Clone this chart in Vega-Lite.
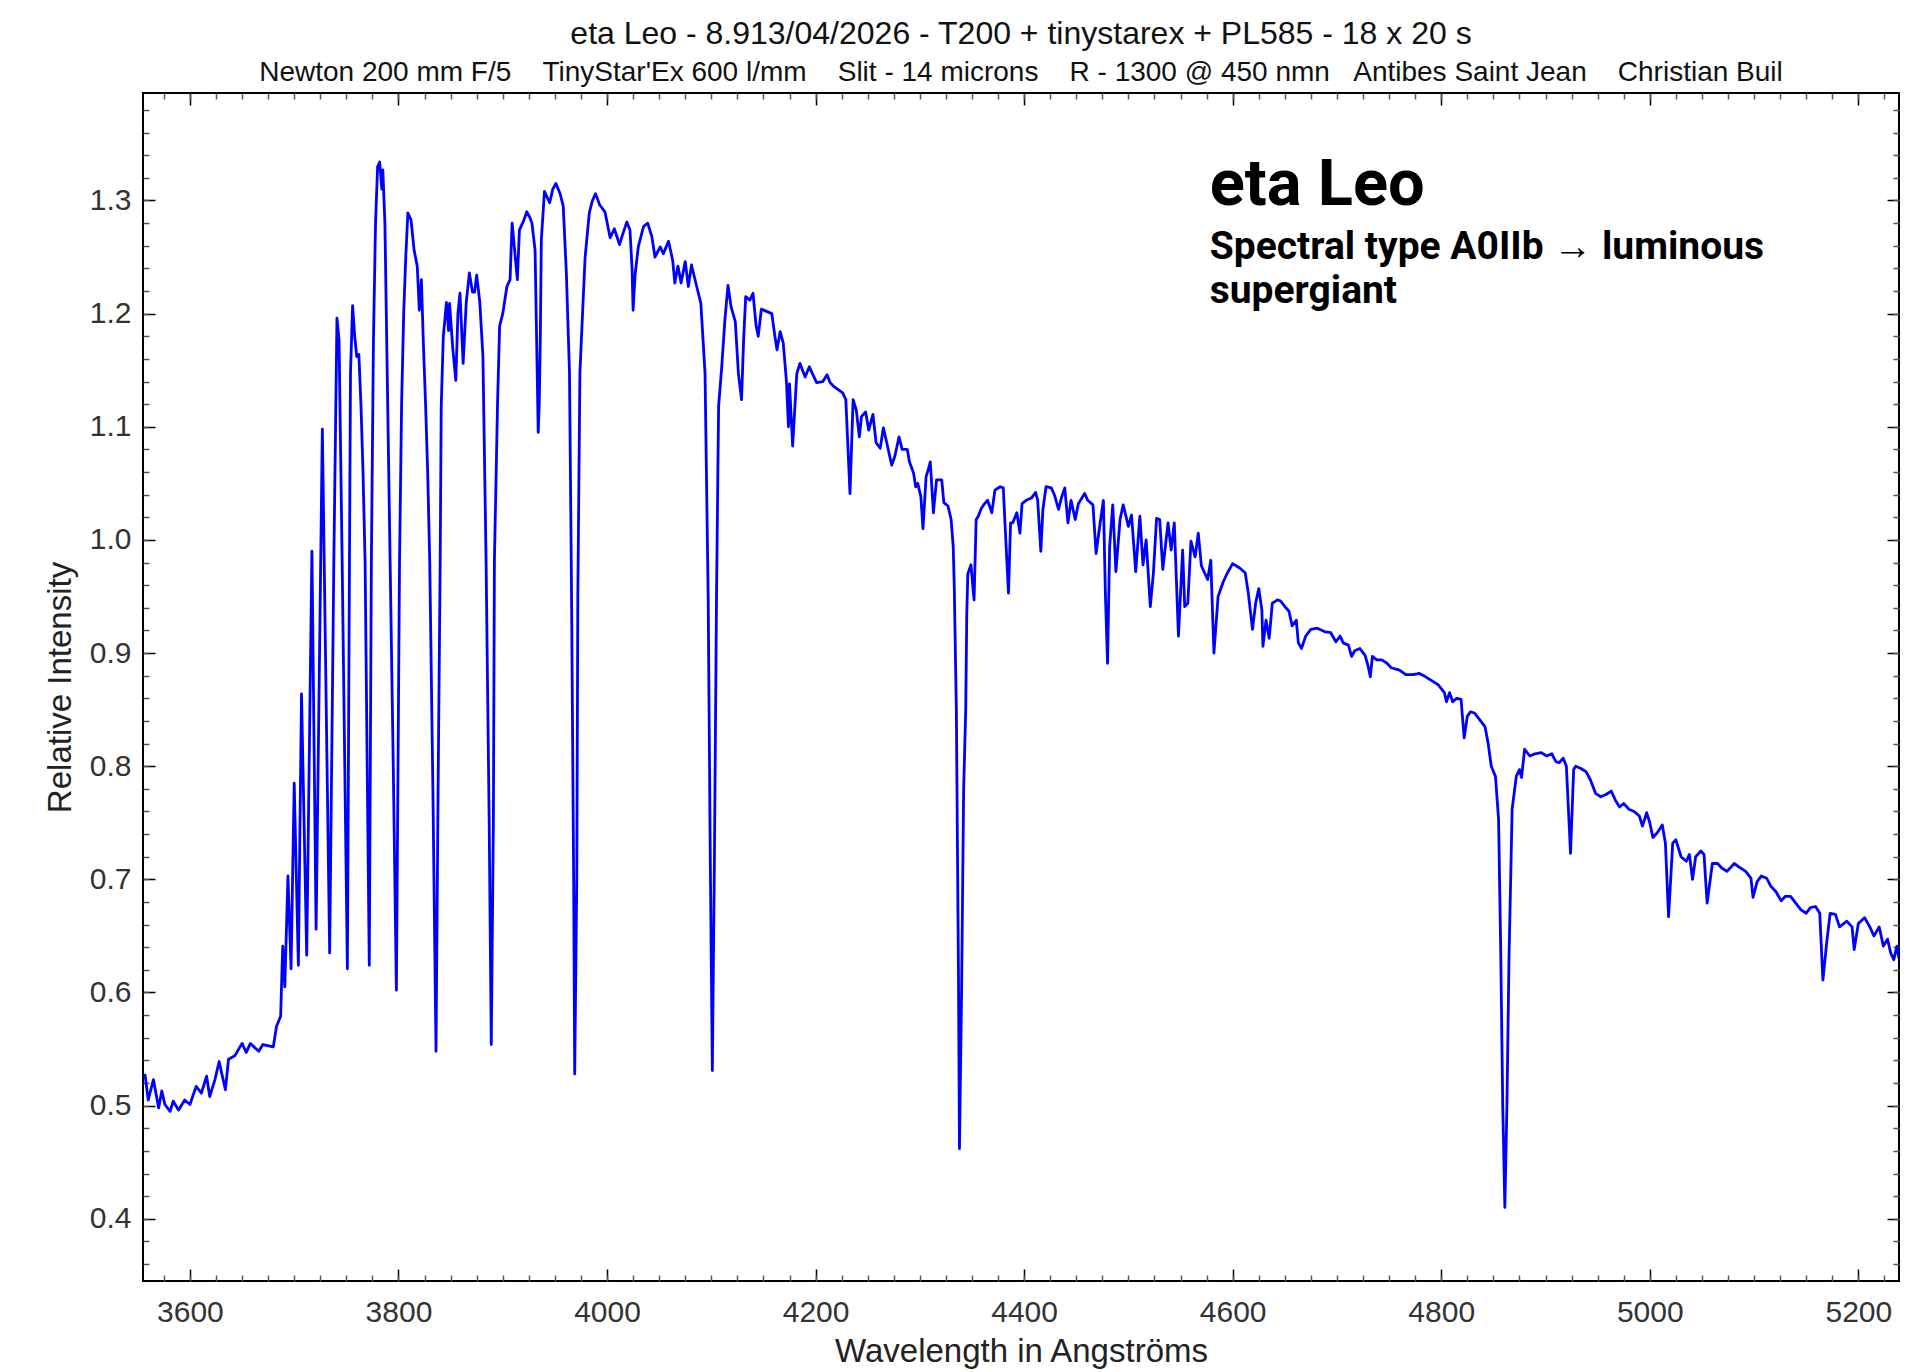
{
  "$schema": "https://vega.github.io/schema/vega-lite/v6.json",
  "width": 1756,
  "height": 1188,
  "autosize": {"type": "none"},
  "padding": {"left": 143, "top": 93, "right": 18, "bottom": 91},
  "background": "white",
  "title": {
    "text": "eta Leo - 8.913/04/2026 - T200 + tinystarex + PL585 - 18 x 20 s",
    "subtitle": "Newton 200 mm F/5\u00a0\u00a0\u00a0\u00a0TinyStar'Ex 600 l/mm\u00a0\u00a0\u00a0\u00a0Slit - 14 microns\u00a0\u00a0\u00a0\u00a0R - 1300 @ 450 nmn\u00a0\u00a0\u00a0Antibes Saint Jean\u00a0\u00a0\u00a0\u00a0Christian Buil",
    "anchor": "middle",
    "font": "Liberation Sans",
    "fontSize": 32,
    "fontWeight": "normal",
    "color": "#111111",
    "subtitleFont": "Liberation Sans",
    "subtitleFontSize": 28,
    "subtitleColor": "#111111",
    "subtitlePadding": 8,
    "offset": 4
  },
  "config": {
    "view": {"stroke": "#000000", "strokeWidth": 2},
    "axis": {
      "domain": false,
      "grid": false,
      "labelFont": "Liberation Sans",
      "labelFontSize": 30,
      "labelColor": "#333333",
      "titleFont": "Liberation Sans",
      "titleFontSize": 33,
      "titleFontWeight": "normal",
      "titleColor": "#222222",
      "tickColor": "#000000",
      "tickWidth": 1.5
    }
  },
  "datasets": {
    "spec": [
      {"wl": 3555, "v": 0.527}, {"wl": 3557, "v": 0.527}, {"wl": 3560, "v": 0.505}, {"wl": 3565, "v": 0.523},
      {"wl": 3570, "v": 0.498}, {"wl": 3573, "v": 0.513}, {"wl": 3576, "v": 0.501}, {"wl": 3581, "v": 0.495},
      {"wl": 3584, "v": 0.504}, {"wl": 3589, "v": 0.496}, {"wl": 3595, "v": 0.505}, {"wl": 3600, "v": 0.501},
      {"wl": 3606, "v": 0.517}, {"wl": 3611, "v": 0.511}, {"wl": 3616, "v": 0.526}, {"wl": 3619, "v": 0.508},
      {"wl": 3624, "v": 0.523}, {"wl": 3628, "v": 0.539}, {"wl": 3634, "v": 0.514}, {"wl": 3637, "v": 0.541},
      {"wl": 3643, "v": 0.544}, {"wl": 3650, "v": 0.555}, {"wl": 3654, "v": 0.547}, {"wl": 3658, "v": 0.555},
      {"wl": 3666, "v": 0.548}, {"wl": 3670, "v": 0.554}, {"wl": 3680, "v": 0.552}, {"wl": 3683, "v": 0.570},
      {"wl": 3687, "v": 0.579}, {"wl": 3689, "v": 0.641}, {"wl": 3691, "v": 0.605}, {"wl": 3694, "v": 0.703},
      {"wl": 3697, "v": 0.621}, {"wl": 3700, "v": 0.785}, {"wl": 3704, "v": 0.624}, {"wl": 3707, "v": 0.864},
      {"wl": 3712, "v": 0.633}, {"wl": 3717, "v": 0.990}, {"wl": 3721, "v": 0.656}, {"wl": 3727, "v": 1.098},
      {"wl": 3730, "v": 0.900}, {"wl": 3734, "v": 0.635}, {"wl": 3738, "v": 0.980}, {"wl": 3741, "v": 1.196},
      {"wl": 3743, "v": 1.177}, {"wl": 3746, "v": 0.980}, {"wl": 3751, "v": 0.621}, {"wl": 3753, "v": 0.980},
      {"wl": 3754, "v": 1.148}, {"wl": 3756, "v": 1.207}, {"wl": 3758, "v": 1.180}, {"wl": 3760, "v": 1.162},
      {"wl": 3762, "v": 1.164}, {"wl": 3764, "v": 1.120}, {"wl": 3766, "v": 1.060}, {"wl": 3768, "v": 0.980},
      {"wl": 3770, "v": 0.800}, {"wl": 3772, "v": 0.624}, {"wl": 3774, "v": 0.980}, {"wl": 3776, "v": 1.177},
      {"wl": 3778, "v": 1.280}, {"wl": 3780, "v": 1.330}, {"wl": 3782, "v": 1.334}, {"wl": 3784, "v": 1.310},
      {"wl": 3785, "v": 1.327}, {"wl": 3787, "v": 1.280}, {"wl": 3789, "v": 1.160}, {"wl": 3792, "v": 0.980},
      {"wl": 3795, "v": 0.800}, {"wl": 3798, "v": 0.602}, {"wl": 3801, "v": 0.980}, {"wl": 3803, "v": 1.120},
      {"wl": 3805, "v": 1.200}, {"wl": 3807, "v": 1.250}, {"wl": 3809, "v": 1.289}, {"wl": 3812, "v": 1.283},
      {"wl": 3815, "v": 1.256}, {"wl": 3818, "v": 1.242}, {"wl": 3820, "v": 1.203}, {"wl": 3822, "v": 1.230},
      {"wl": 3824, "v": 1.170}, {"wl": 3826, "v": 1.120}, {"wl": 3828, "v": 1.060}, {"wl": 3830, "v": 0.980},
      {"wl": 3833, "v": 0.780}, {"wl": 3836, "v": 0.548}, {"wl": 3838, "v": 0.780}, {"wl": 3840, "v": 0.980},
      {"wl": 3841, "v": 1.118}, {"wl": 3843, "v": 1.180}, {"wl": 3846, "v": 1.210}, {"wl": 3848, "v": 1.185},
      {"wl": 3849, "v": 1.209}, {"wl": 3852, "v": 1.170}, {"wl": 3855, "v": 1.141}, {"wl": 3857, "v": 1.200},
      {"wl": 3859, "v": 1.218}, {"wl": 3862, "v": 1.156}, {"wl": 3865, "v": 1.210}, {"wl": 3868, "v": 1.236},
      {"wl": 3871, "v": 1.219}, {"wl": 3873, "v": 1.219}, {"wl": 3875, "v": 1.234}, {"wl": 3878, "v": 1.210},
      {"wl": 3881, "v": 1.162}, {"wl": 3884, "v": 0.982}, {"wl": 3887, "v": 0.750}, {"wl": 3889, "v": 0.554},
      {"wl": 3891, "v": 0.750}, {"wl": 3892, "v": 0.982}, {"wl": 3895, "v": 1.120}, {"wl": 3897, "v": 1.189},
      {"wl": 3900, "v": 1.200}, {"wl": 3904, "v": 1.224}, {"wl": 3907, "v": 1.230}, {"wl": 3909, "v": 1.280},
      {"wl": 3911, "v": 1.260}, {"wl": 3914, "v": 1.230}, {"wl": 3916, "v": 1.274}, {"wl": 3920, "v": 1.282},
      {"wl": 3923, "v": 1.290}, {"wl": 3926, "v": 1.285}, {"wl": 3928, "v": 1.280}, {"wl": 3931, "v": 1.256},
      {"wl": 3933, "v": 1.150}, {"wl": 3934, "v": 1.095}, {"wl": 3935, "v": 1.120}, {"wl": 3936, "v": 1.177},
      {"wl": 3937, "v": 1.265}, {"wl": 3940, "v": 1.308}, {"wl": 3943, "v": 1.302}, {"wl": 3945, "v": 1.298},
      {"wl": 3948, "v": 1.310}, {"wl": 3951, "v": 1.315}, {"wl": 3955, "v": 1.306}, {"wl": 3958, "v": 1.295},
      {"wl": 3961, "v": 1.236}, {"wl": 3964, "v": 1.148}, {"wl": 3966, "v": 0.950}, {"wl": 3968, "v": 0.700},
      {"wl": 3969, "v": 0.528}, {"wl": 3971, "v": 0.700}, {"wl": 3972, "v": 0.950}, {"wl": 3974, "v": 1.148},
      {"wl": 3977, "v": 1.210}, {"wl": 3979, "v": 1.250}, {"wl": 3983, "v": 1.289}, {"wl": 3986, "v": 1.300},
      {"wl": 3989, "v": 1.306}, {"wl": 3993, "v": 1.296}, {"wl": 3998, "v": 1.290}, {"wl": 4003, "v": 1.267},
      {"wl": 4007, "v": 1.275}, {"wl": 4012, "v": 1.261}, {"wl": 4015, "v": 1.270}, {"wl": 4019, "v": 1.281},
      {"wl": 4022, "v": 1.274}, {"wl": 4024, "v": 1.240}, {"wl": 4025, "v": 1.203}, {"wl": 4027, "v": 1.235},
      {"wl": 4030, "v": 1.259}, {"wl": 4035, "v": 1.277}, {"wl": 4039, "v": 1.280}, {"wl": 4043, "v": 1.268},
      {"wl": 4046, "v": 1.250}, {"wl": 4051, "v": 1.259}, {"wl": 4054, "v": 1.253}, {"wl": 4059, "v": 1.264},
      {"wl": 4063, "v": 1.247}, {"wl": 4065, "v": 1.227}, {"wl": 4068, "v": 1.242}, {"wl": 4071, "v": 1.227},
      {"wl": 4075, "v": 1.246}, {"wl": 4078, "v": 1.224}, {"wl": 4081, "v": 1.243}, {"wl": 4086, "v": 1.224},
      {"wl": 4090, "v": 1.209}, {"wl": 4094, "v": 1.147}, {"wl": 4097, "v": 0.950}, {"wl": 4099, "v": 0.720},
      {"wl": 4101, "v": 0.531}, {"wl": 4103, "v": 0.720}, {"wl": 4105, "v": 0.950}, {"wl": 4107, "v": 1.118},
      {"wl": 4110, "v": 1.153}, {"wl": 4113, "v": 1.194}, {"wl": 4116, "v": 1.225}, {"wl": 4119, "v": 1.206},
      {"wl": 4123, "v": 1.193}, {"wl": 4126, "v": 1.147}, {"wl": 4129, "v": 1.124}, {"wl": 4131, "v": 1.177},
      {"wl": 4133, "v": 1.215}, {"wl": 4137, "v": 1.212}, {"wl": 4140, "v": 1.218}, {"wl": 4143, "v": 1.189},
      {"wl": 4145, "v": 1.180}, {"wl": 4148, "v": 1.204}, {"wl": 4153, "v": 1.202}, {"wl": 4158, "v": 1.200},
      {"wl": 4161, "v": 1.180}, {"wl": 4163, "v": 1.168}, {"wl": 4166, "v": 1.184}, {"wl": 4169, "v": 1.174},
      {"wl": 4172, "v": 1.141}, {"wl": 4174, "v": 1.100}, {"wl": 4175, "v": 1.138}, {"wl": 4178, "v": 1.083},
      {"wl": 4182, "v": 1.147}, {"wl": 4185, "v": 1.156}, {"wl": 4190, "v": 1.144}, {"wl": 4194, "v": 1.153},
      {"wl": 4201, "v": 1.139}, {"wl": 4207, "v": 1.140}, {"wl": 4211, "v": 1.146}, {"wl": 4214, "v": 1.139},
      {"wl": 4217, "v": 1.136}, {"wl": 4226, "v": 1.130}, {"wl": 4229, "v": 1.124}, {"wl": 4233, "v": 1.041},
      {"wl": 4236, "v": 1.124}, {"wl": 4239, "v": 1.115}, {"wl": 4242, "v": 1.091}, {"wl": 4244, "v": 1.109},
      {"wl": 4248, "v": 1.113}, {"wl": 4251, "v": 1.097}, {"wl": 4255, "v": 1.111}, {"wl": 4258, "v": 1.086},
      {"wl": 4262, "v": 1.081}, {"wl": 4265, "v": 1.099}, {"wl": 4268, "v": 1.087}, {"wl": 4273, "v": 1.066},
      {"wl": 4276, "v": 1.074}, {"wl": 4280, "v": 1.091}, {"wl": 4283, "v": 1.080}, {"wl": 4288, "v": 1.080},
      {"wl": 4290, "v": 1.069}, {"wl": 4294, "v": 1.059}, {"wl": 4296, "v": 1.047}, {"wl": 4298, "v": 1.050},
      {"wl": 4301, "v": 1.038}, {"wl": 4303, "v": 1.010}, {"wl": 4306, "v": 1.056}, {"wl": 4308, "v": 1.062},
      {"wl": 4310, "v": 1.069}, {"wl": 4313, "v": 1.024}, {"wl": 4316, "v": 1.053}, {"wl": 4321, "v": 1.053},
      {"wl": 4323, "v": 1.033}, {"wl": 4327, "v": 1.030}, {"wl": 4330, "v": 1.018}, {"wl": 4332, "v": 0.994},
      {"wl": 4333, "v": 0.959}, {"wl": 4335, "v": 0.850}, {"wl": 4337, "v": 0.620}, {"wl": 4338, "v": 0.462},
      {"wl": 4340, "v": 0.600}, {"wl": 4342, "v": 0.780}, {"wl": 4344, "v": 0.850}, {"wl": 4345, "v": 0.935},
      {"wl": 4346, "v": 0.970}, {"wl": 4349, "v": 0.978}, {"wl": 4352, "v": 0.947}, {"wl": 4354, "v": 1.018},
      {"wl": 4356, "v": 1.021}, {"wl": 4359, "v": 1.028}, {"wl": 4362, "v": 1.032}, {"wl": 4365, "v": 1.035},
      {"wl": 4369, "v": 1.024}, {"wl": 4372, "v": 1.044}, {"wl": 4377, "v": 1.047}, {"wl": 4380, "v": 1.046},
      {"wl": 4382, "v": 1.008}, {"wl": 4385, "v": 0.953}, {"wl": 4387, "v": 1.015}, {"wl": 4389, "v": 1.015},
      {"wl": 4393, "v": 1.024}, {"wl": 4396, "v": 1.006}, {"wl": 4398, "v": 1.032}, {"wl": 4402, "v": 1.035},
      {"wl": 4407, "v": 1.037}, {"wl": 4411, "v": 1.042}, {"wl": 4413, "v": 1.035}, {"wl": 4416, "v": 0.990},
      {"wl": 4418, "v": 1.027}, {"wl": 4421, "v": 1.047}, {"wl": 4426, "v": 1.046}, {"wl": 4429, "v": 1.040},
      {"wl": 4433, "v": 1.027}, {"wl": 4436, "v": 1.038}, {"wl": 4439, "v": 1.046}, {"wl": 4442, "v": 1.015},
      {"wl": 4445, "v": 1.035}, {"wl": 4449, "v": 1.018}, {"wl": 4452, "v": 1.032}, {"wl": 4458, "v": 1.041},
      {"wl": 4461, "v": 1.035}, {"wl": 4466, "v": 1.031}, {"wl": 4469, "v": 0.988}, {"wl": 4472, "v": 1.009},
      {"wl": 4476, "v": 1.035}, {"wl": 4478, "v": 0.950}, {"wl": 4480, "v": 0.891}, {"wl": 4482, "v": 0.994},
      {"wl": 4485, "v": 1.031}, {"wl": 4488, "v": 0.972}, {"wl": 4492, "v": 1.018}, {"wl": 4495, "v": 1.031},
      {"wl": 4500, "v": 1.012}, {"wl": 4503, "v": 1.022}, {"wl": 4507, "v": 0.972}, {"wl": 4511, "v": 1.021},
      {"wl": 4514, "v": 0.978}, {"wl": 4517, "v": 1.000}, {"wl": 4521, "v": 0.941}, {"wl": 4524, "v": 0.971},
      {"wl": 4527, "v": 1.019}, {"wl": 4530, "v": 1.018}, {"wl": 4533, "v": 0.974}, {"wl": 4538, "v": 1.015},
      {"wl": 4541, "v": 0.991}, {"wl": 4544, "v": 1.015}, {"wl": 4548, "v": 0.915}, {"wl": 4552, "v": 0.991},
      {"wl": 4554, "v": 0.941}, {"wl": 4557, "v": 0.944}, {"wl": 4560, "v": 0.999}, {"wl": 4564, "v": 0.985},
      {"wl": 4567, "v": 1.006}, {"wl": 4570, "v": 0.977}, {"wl": 4573, "v": 0.971}, {"wl": 4576, "v": 0.965},
      {"wl": 4579, "v": 0.982}, {"wl": 4582, "v": 0.900}, {"wl": 4586, "v": 0.950}, {"wl": 4591, "v": 0.963},
      {"wl": 4595, "v": 0.971}, {"wl": 4600, "v": 0.979}, {"wl": 4607, "v": 0.975}, {"wl": 4612, "v": 0.971},
      {"wl": 4615, "v": 0.953}, {"wl": 4619, "v": 0.921}, {"wl": 4622, "v": 0.944}, {"wl": 4625, "v": 0.957},
      {"wl": 4628, "v": 0.938}, {"wl": 4629, "v": 0.906}, {"wl": 4632, "v": 0.929}, {"wl": 4635, "v": 0.913},
      {"wl": 4638, "v": 0.944}, {"wl": 4643, "v": 0.947}, {"wl": 4646, "v": 0.946}, {"wl": 4651, "v": 0.940},
      {"wl": 4654, "v": 0.937}, {"wl": 4657, "v": 0.924}, {"wl": 4661, "v": 0.929}, {"wl": 4663, "v": 0.909},
      {"wl": 4666, "v": 0.904}, {"wl": 4670, "v": 0.915}, {"wl": 4675, "v": 0.921}, {"wl": 4681, "v": 0.922},
      {"wl": 4688, "v": 0.919}, {"wl": 4694, "v": 0.918}, {"wl": 4699, "v": 0.910}, {"wl": 4703, "v": 0.915},
      {"wl": 4706, "v": 0.909}, {"wl": 4711, "v": 0.907}, {"wl": 4714, "v": 0.897}, {"wl": 4717, "v": 0.902},
      {"wl": 4722, "v": 0.904}, {"wl": 4727, "v": 0.898}, {"wl": 4730, "v": 0.888}, {"wl": 4732, "v": 0.879},
      {"wl": 4734, "v": 0.897}, {"wl": 4738, "v": 0.894}, {"wl": 4743, "v": 0.894}, {"wl": 4748, "v": 0.891},
      {"wl": 4752, "v": 0.887}, {"wl": 4760, "v": 0.885}, {"wl": 4766, "v": 0.881}, {"wl": 4773, "v": 0.881},
      {"wl": 4779, "v": 0.882}, {"wl": 4785, "v": 0.879}, {"wl": 4792, "v": 0.875}, {"wl": 4797, "v": 0.872},
      {"wl": 4803, "v": 0.865}, {"wl": 4805, "v": 0.857}, {"wl": 4808, "v": 0.865}, {"wl": 4811, "v": 0.857},
      {"wl": 4815, "v": 0.860}, {"wl": 4819, "v": 0.859}, {"wl": 4822, "v": 0.825}, {"wl": 4825, "v": 0.844},
      {"wl": 4828, "v": 0.848}, {"wl": 4832, "v": 0.847}, {"wl": 4837, "v": 0.841}, {"wl": 4842, "v": 0.835},
      {"wl": 4845, "v": 0.820}, {"wl": 4848, "v": 0.800}, {"wl": 4852, "v": 0.791}, {"wl": 4855, "v": 0.753},
      {"wl": 4857, "v": 0.640}, {"wl": 4859, "v": 0.500}, {"wl": 4861, "v": 0.410}, {"wl": 4863, "v": 0.500},
      {"wl": 4865, "v": 0.630}, {"wl": 4868, "v": 0.762}, {"wl": 4872, "v": 0.791}, {"wl": 4875, "v": 0.797},
      {"wl": 4877, "v": 0.790}, {"wl": 4880, "v": 0.815}, {"wl": 4885, "v": 0.809}, {"wl": 4890, "v": 0.811},
      {"wl": 4896, "v": 0.812}, {"wl": 4901, "v": 0.809}, {"wl": 4906, "v": 0.811}, {"wl": 4910, "v": 0.804},
      {"wl": 4913, "v": 0.803}, {"wl": 4917, "v": 0.807}, {"wl": 4920, "v": 0.800}, {"wl": 4924, "v": 0.723},
      {"wl": 4927, "v": 0.797}, {"wl": 4929, "v": 0.800}, {"wl": 4934, "v": 0.798}, {"wl": 4939, "v": 0.795},
      {"wl": 4943, "v": 0.788}, {"wl": 4948, "v": 0.776}, {"wl": 4953, "v": 0.773}, {"wl": 4958, "v": 0.775},
      {"wl": 4963, "v": 0.778}, {"wl": 4967, "v": 0.770}, {"wl": 4971, "v": 0.764}, {"wl": 4975, "v": 0.767},
      {"wl": 4980, "v": 0.762}, {"wl": 4985, "v": 0.760}, {"wl": 4990, "v": 0.756}, {"wl": 4993, "v": 0.747},
      {"wl": 4997, "v": 0.759}, {"wl": 5000, "v": 0.750}, {"wl": 5003, "v": 0.737}, {"wl": 5007, "v": 0.741},
      {"wl": 5012, "v": 0.748}, {"wl": 5015, "v": 0.732}, {"wl": 5018, "v": 0.667}, {"wl": 5022, "v": 0.732},
      {"wl": 5025, "v": 0.735}, {"wl": 5030, "v": 0.720}, {"wl": 5035, "v": 0.716}, {"wl": 5038, "v": 0.722},
      {"wl": 5041, "v": 0.700}, {"wl": 5044, "v": 0.720}, {"wl": 5049, "v": 0.725}, {"wl": 5052, "v": 0.722},
      {"wl": 5055, "v": 0.679}, {"wl": 5060, "v": 0.714}, {"wl": 5065, "v": 0.714}, {"wl": 5069, "v": 0.710},
      {"wl": 5074, "v": 0.707}, {"wl": 5081, "v": 0.714}, {"wl": 5087, "v": 0.710}, {"wl": 5092, "v": 0.707},
      {"wl": 5097, "v": 0.701}, {"wl": 5099, "v": 0.684}, {"wl": 5103, "v": 0.698}, {"wl": 5107, "v": 0.703},
      {"wl": 5112, "v": 0.701}, {"wl": 5116, "v": 0.694}, {"wl": 5121, "v": 0.689}, {"wl": 5126, "v": 0.681},
      {"wl": 5130, "v": 0.685}, {"wl": 5135, "v": 0.685}, {"wl": 5140, "v": 0.679}, {"wl": 5145, "v": 0.673},
      {"wl": 5150, "v": 0.670}, {"wl": 5154, "v": 0.675}, {"wl": 5159, "v": 0.676}, {"wl": 5163, "v": 0.670},
      {"wl": 5166, "v": 0.611}, {"wl": 5170, "v": 0.647}, {"wl": 5173, "v": 0.670}, {"wl": 5178, "v": 0.669},
      {"wl": 5182, "v": 0.658}, {"wl": 5189, "v": 0.663}, {"wl": 5194, "v": 0.658}, {"wl": 5196, "v": 0.638},
      {"wl": 5200, "v": 0.661}, {"wl": 5206, "v": 0.666}, {"wl": 5211, "v": 0.658}, {"wl": 5215, "v": 0.650},
      {"wl": 5220, "v": 0.658}, {"wl": 5224, "v": 0.641}, {"wl": 5228, "v": 0.647}, {"wl": 5231, "v": 0.635},
      {"wl": 5234, "v": 0.629}, {"wl": 5237, "v": 0.641}, {"wl": 5239, "v": 0.630}
    ],
    "one": [{}]
  },
  "resolve": {"axis": {"x": "independent", "y": "independent"}},
  "layer": [
    {
      "data": {"name": "spec"},
      "mark": {"type": "line", "color": "#0000ff", "strokeWidth": 2.8, "strokeJoin": "round", "clip": true},
      "encoding": {
        "x": {
          "field": "wl", "type": "quantitative",
          "scale": {"domain": [3555, 5239], "nice": false, "zero": false},
          "axis": {
            "orient": "bottom", "values": [3600, 3800, 4000, 4200, 4400, 4600, 4800, 5000, 5200],
            "format": "d", "tickSize": -12, "labelPadding": 28, "labelFlush": false,
            "title": "Wavelength in Angströms", "titlePadding": 8
          }
        },
        "y": {
          "field": "v", "type": "quantitative",
          "scale": {"domain": [0.345, 1.395], "nice": false, "zero": false},
          "axis": {
            "orient": "left", "values": [0.4, 0.5, 0.6, 0.7, 0.8, 0.9, 1.0, 1.1, 1.2, 1.3],
            "format": ".1f", "tickSize": -12, "labelPadding": 24,
            "title": "Relative Intensity", "titlePadding": 12
          }
        }
      }
    },
    {
      "data": {"name": "spec"},
      "mark": {"type": "line", "strokeOpacity": 0},
      "encoding": {
        "x": {
          "field": "wl", "type": "quantitative",
          "axis": {
            "orient": "bottom", "labels": false, "title": null, "tickSize": -6, "tickColor": "#555555",
            "values": [3575,3600,3625,3650,3675,3700,3725,3750,3775,3800,3825,3850,3875,3900,3925,3950,3975,4000,4025,4050,4075,4100,4125,4150,4175,4200,4225,4250,4275,4300,4325,4350,4375,4400,4425,4450,4475,4500,4525,4550,4575,4600,4625,4650,4675,4700,4725,4750,4775,4800,4825,4850,4875,4900,4925,4950,4975,5000,5025,5050,5075,5100,5125,5150,5175,5200,5225]
          }
        },
        "y": {
          "field": "v", "type": "quantitative",
          "axis": {
            "orient": "left", "labels": false, "title": null, "tickSize": -6, "tickColor": "#555555",
            "values": [0.36,0.38,0.40,0.42,0.44,0.46,0.48,0.50,0.52,0.54,0.56,0.58,0.60,0.62,0.64,0.66,0.68,0.70,0.72,0.74,0.76,0.78,0.80,0.82,0.84,0.86,0.88,0.90,0.92,0.94,0.96,0.98,1.00,1.02,1.04,1.06,1.08,1.10,1.12,1.14,1.16,1.18,1.20,1.22,1.24,1.26,1.28,1.30,1.32,1.34,1.36,1.38]
          }
        }
      }
    },
    {
      "data": {"name": "spec"},
      "mark": {"type": "line", "strokeOpacity": 0},
      "encoding": {
        "x": {
          "field": "wl", "type": "quantitative",
          "axis": {"orient": "top", "labels": false, "title": null, "tickSize": -12, "values": [3600, 3800, 4000, 4200, 4400, 4600, 4800, 5000, 5200]}
        },
        "y": {
          "field": "v", "type": "quantitative",
          "axis": {"orient": "right", "labels": false, "title": null, "tickSize": -12, "values": [0.4, 0.5, 0.6, 0.7, 0.8, 0.9, 1.0, 1.1, 1.2, 1.3]}
        }
      }
    },
    {
      "data": {"name": "spec"},
      "mark": {"type": "line", "strokeOpacity": 0},
      "encoding": {
        "x": {
          "field": "wl", "type": "quantitative",
          "axis": {
            "orient": "top", "labels": false, "title": null, "tickSize": -6, "tickColor": "#555555",
            "values": [3575,3600,3625,3650,3675,3700,3725,3750,3775,3800,3825,3850,3875,3900,3925,3950,3975,4000,4025,4050,4075,4100,4125,4150,4175,4200,4225,4250,4275,4300,4325,4350,4375,4400,4425,4450,4475,4500,4525,4550,4575,4600,4625,4650,4675,4700,4725,4750,4775,4800,4825,4850,4875,4900,4925,4950,4975,5000,5025,5050,5075,5100,5125,5150,5175,5200,5225]
          }
        },
        "y": {
          "field": "v", "type": "quantitative",
          "axis": {
            "orient": "right", "labels": false, "title": null, "tickSize": -6, "tickColor": "#555555",
            "values": [0.36,0.38,0.40,0.42,0.44,0.46,0.48,0.50,0.52,0.54,0.56,0.58,0.60,0.62,0.64,0.66,0.68,0.70,0.72,0.74,0.76,0.78,0.80,0.82,0.84,0.86,0.88,0.90,0.92,0.94,0.96,0.98,1.00,1.02,1.04,1.06,1.08,1.10,1.12,1.14,1.16,1.18,1.20,1.22,1.24,1.26,1.28,1.30,1.32,1.34,1.36,1.38]
          }
        }
      }
    },
    {
      "data": {"name": "one"},
      "mark": {"type": "text", "text": "eta Leo", "font": "Roboto", "fontWeight": "bold", "fontSize": 65, "align": "left", "baseline": "alphabetic", "color": "#000000"},
      "encoding": {
        "x": {"datum": 4578, "type": "quantitative", "axis": null},
        "y": {"datum": 1.2957, "type": "quantitative", "axis": null}
      }
    },
    {
      "data": {"name": "one"},
      "mark": {"type": "text", "text": ["Spectral type A0IIb → luminous", "supergiant"], "font": "Roboto", "fontWeight": "bold", "fontSize": 39, "lineHeight": 44, "align": "left", "baseline": "alphabetic", "color": "#000000"},
      "encoding": {
        "x": {"datum": 4578, "type": "quantitative", "axis": null},
        "y": {"datum": 1.2483, "type": "quantitative", "axis": null}
      }
    }
  ]
}
